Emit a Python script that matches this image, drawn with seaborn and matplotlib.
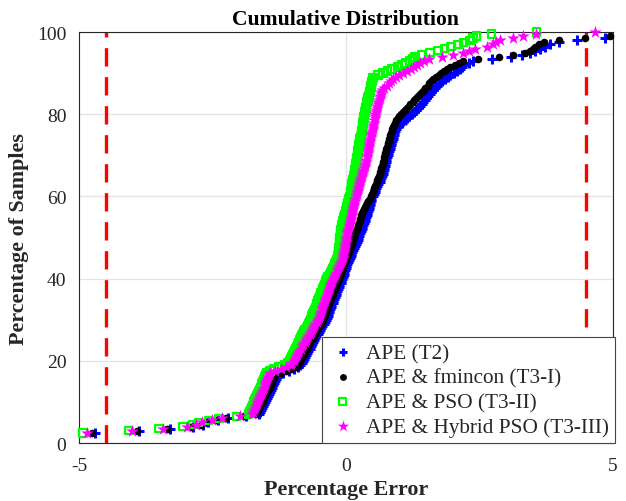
import numpy as np
import pandas as pd
import seaborn as sns
import matplotlib
matplotlib.use("Agg")
import matplotlib.pyplot as plt

# ---------------- data (sorted percentage errors, 200 samples each) ----------------
methods = ["APE (T2)", "APE & fmincon (T3-I)", "APE & PSO (T3-II)", "APE & Hybrid PSO (T3-III)"]

err_t2 = [
    -5.65, -5.35, -5.20, -5.02, -4.70, -3.88, -3.30, -2.86, -2.68, -2.58,
    -2.39, -2.20, -1.87, -1.63, -1.61, -1.59, -1.57, -1.55, -1.53, -1.52,
    -1.50, -1.48, -1.46, -1.44, -1.42, -1.40, -1.38, -1.36, -1.34, -1.33,
    -1.31, -1.29, -1.27, -1.17, -1.07, -0.97, -0.89, -0.85, -0.83, -0.81,
    -0.79, -0.77, -0.74, -0.72, -0.70, -0.68, -0.66, -0.63, -0.61, -0.59,
    -0.57, -0.55, -0.52, -0.50, -0.48, -0.46, -0.44, -0.41, -0.39, -0.37,
    -0.36, -0.34, -0.33, -0.31, -0.30, -0.28, -0.27, -0.25, -0.24, -0.22,
    -0.21, -0.19, -0.18, -0.16, -0.15, -0.13, -0.12, -0.10, -0.09, -0.07,
    -0.06, -0.04, -0.03, -0.01, 0.00, 0.01, 0.03, 0.04, 0.06, 0.07,
    0.09, 0.10, 0.12, 0.14, 0.15, 0.17, 0.19, 0.20, 0.22, 0.23,
    0.25, 0.27, 0.28, 0.30, 0.31, 0.32, 0.34, 0.35, 0.36, 0.38,
    0.39, 0.40, 0.42, 0.43, 0.44, 0.45, 0.46, 0.47, 0.48, 0.50,
    0.52, 0.54, 0.55, 0.57, 0.59, 0.61, 0.63, 0.64, 0.66, 0.68,
    0.69, 0.70, 0.71, 0.72, 0.73, 0.74, 0.75, 0.76, 0.77, 0.78,
    0.79, 0.80, 0.82, 0.83, 0.84, 0.85, 0.86, 0.88, 0.89, 0.90,
    0.91, 0.92, 0.94, 0.95, 1.00, 1.05, 1.10, 1.15, 1.19, 1.23,
    1.27, 1.31, 1.35, 1.39, 1.42, 1.45, 1.48, 1.51, 1.54, 1.57,
    1.60, 1.63, 1.66, 1.70, 1.75, 1.80, 1.85, 1.91, 1.95, 2.02,
    2.08, 2.13, 2.17, 2.20, 2.30, 2.38, 2.73, 3.10, 3.30, 3.45,
    3.54, 3.63, 3.73, 3.82, 4.00, 4.33, 4.85, 5.20, 5.50, 5.90,
]

err_t3i = [
    -5.70, -5.40, -5.25, -5.05, -4.75, -3.92, -3.35, -2.90, -2.72, -2.62,
    -2.43, -2.24, -1.91, -1.68, -1.66, -1.64, -1.62, -1.60, -1.58, -1.56,
    -1.55, -1.53, -1.51, -1.49, -1.47, -1.45, -1.43, -1.41, -1.39, -1.38,
    -1.36, -1.34, -1.32, -1.22, -1.12, -1.02, -0.94, -0.90, -0.88, -0.86,
    -0.84, -0.82, -0.79, -0.77, -0.75, -0.73, -0.71, -0.69, -0.67, -0.65,
    -0.62, -0.60, -0.58, -0.56, -0.54, -0.52, -0.49, -0.47, -0.45, -0.43,
    -0.42, -0.40, -0.39, -0.37, -0.36, -0.34, -0.33, -0.31, -0.30, -0.28,
    -0.27, -0.25, -0.24, -0.22, -0.21, -0.19, -0.18, -0.16, -0.15, -0.13,
    -0.12, -0.10, -0.09, -0.07, -0.06, -0.05, -0.03, -0.02, 0.00, 0.01,
    0.02, 0.04, 0.05, 0.06, 0.08, 0.09, 0.11, 0.12, 0.13, 0.15,
    0.16, 0.17, 0.19, 0.20, 0.22, 0.23, 0.24, 0.26, 0.27, 0.28,
    0.29, 0.30, 0.32, 0.34, 0.36, 0.38, 0.40, 0.42, 0.45, 0.47,
    0.49, 0.50, 0.52, 0.53, 0.55, 0.56, 0.58, 0.59, 0.61, 0.62,
    0.63, 0.64, 0.65, 0.66, 0.68, 0.69, 0.70, 0.71, 0.72, 0.73,
    0.74, 0.75, 0.76, 0.77, 0.78, 0.79, 0.80, 0.81, 0.82, 0.83,
    0.84, 0.86, 0.87, 0.89, 0.90, 0.92, 0.93, 0.97, 1.00, 1.04,
    1.07, 1.11, 1.14, 1.18, 1.21, 1.25, 1.28, 1.32, 1.35, 1.39,
    1.42, 1.46, 1.49, 1.53, 1.56, 1.60, 1.63, 1.68, 1.74, 1.79,
    1.84, 1.90, 1.95, 2.05, 2.12, 2.20, 2.47, 2.87, 3.13, 3.35,
    3.45, 3.50, 3.55, 3.62, 3.71, 4.00, 4.48, 4.94, 5.30, 5.80,
]

err_t3ii = [
    -6.00, -5.70, -5.40, -5.20, -4.92, -4.07, -3.50, -3.05, -2.86, -2.76,
    -2.57, -2.38, -2.05, -1.82, -1.80, -1.78, -1.77, -1.75, -1.73, -1.72,
    -1.70, -1.68, -1.67, -1.65, -1.63, -1.62, -1.60, -1.58, -1.57, -1.55,
    -1.53, -1.52, -1.50, -1.48, -1.42, -1.35, -1.25, -1.15, -1.09, -1.05,
    -1.03, -1.01, -0.99, -0.97, -0.95, -0.94, -0.92, -0.90, -0.88, -0.86,
    -0.84, -0.82, -0.80, -0.78, -0.76, -0.74, -0.72, -0.70, -0.68, -0.66,
    -0.64, -0.63, -0.61, -0.60, -0.58, -0.57, -0.55, -0.54, -0.52, -0.51,
    -0.49, -0.47, -0.46, -0.44, -0.43, -0.41, -0.40, -0.38, -0.37, -0.35,
    -0.33, -0.31, -0.29, -0.27, -0.25, -0.23, -0.21, -0.19, -0.17, -0.15,
    -0.15, -0.14, -0.14, -0.13, -0.13, -0.12, -0.12, -0.12, -0.11, -0.11,
    -0.10, -0.10, -0.09, -0.09, -0.08, -0.07, -0.06, -0.05, -0.04, -0.03,
    -0.02, -0.01, 0.00, 0.01, 0.02, 0.03, 0.04, 0.05, 0.06, 0.08,
    0.09, 0.09, 0.10, 0.11, 0.11, 0.12, 0.13, 0.13, 0.14, 0.15,
    0.16, 0.16, 0.17, 0.18, 0.18, 0.19, 0.20, 0.20, 0.21, 0.22,
    0.23, 0.23, 0.24, 0.25, 0.25, 0.26, 0.27, 0.27, 0.28, 0.29,
    0.29, 0.30, 0.31, 0.31, 0.32, 0.32, 0.33, 0.34, 0.34, 0.35,
    0.36, 0.37, 0.38, 0.39, 0.39, 0.40, 0.41, 0.42, 0.43, 0.44,
    0.45, 0.46, 0.47, 0.47, 0.48, 0.49, 0.50, 0.51, 0.60, 0.69,
    0.78, 0.86, 0.97, 1.05, 1.12, 1.20, 1.25, 1.30, 1.42, 1.57,
    1.72, 1.85, 1.97, 2.10, 2.20, 2.32, 2.38, 2.45, 2.73, 3.57,
]

err_t3iii = [
    -5.80, -5.50, -5.30, -5.10, -4.85, -4.00, -3.43, -2.98, -2.80, -2.70,
    -2.51, -2.32, -1.99, -1.76, -1.74, -1.72, -1.71, -1.69, -1.67, -1.66,
    -1.64, -1.62, -1.61, -1.59, -1.57, -1.56, -1.54, -1.52, -1.51, -1.49,
    -1.47, -1.46, -1.44, -1.42, -1.32, -1.22, -1.12, -1.03, -1.00, -0.98,
    -0.96, -0.93, -0.91, -0.89, -0.87, -0.84, -0.82, -0.80, -0.77, -0.75,
    -0.73, -0.70, -0.68, -0.66, -0.64, -0.61, -0.59, -0.57, -0.54, -0.52,
    -0.51, -0.49, -0.48, -0.47, -0.45, -0.44, -0.43, -0.41, -0.40, -0.39,
    -0.37, -0.36, -0.34, -0.33, -0.32, -0.30, -0.29, -0.28, -0.26, -0.24,
    -0.22, -0.20, -0.19, -0.17, -0.15, -0.13, -0.11, -0.10, -0.08, -0.06,
    -0.05, -0.05, -0.04, -0.03, -0.02, -0.02, -0.01, 0.00, 0.01, 0.01,
    0.02, 0.03, 0.03, 0.04, 0.05, 0.06, 0.07, 0.08, 0.09, 0.10,
    0.11, 0.12, 0.12, 0.13, 0.14, 0.15, 0.16, 0.17, 0.18, 0.19,
    0.20, 0.21, 0.22, 0.23, 0.24, 0.25, 0.26, 0.27, 0.28, 0.30,
    0.31, 0.32, 0.33, 0.34, 0.35, 0.36, 0.37, 0.38, 0.39, 0.40,
    0.41, 0.41, 0.42, 0.43, 0.44, 0.44, 0.45, 0.46, 0.47, 0.48,
    0.48, 0.49, 0.50, 0.51, 0.51, 0.52, 0.53, 0.54, 0.54, 0.55,
    0.56, 0.57, 0.58, 0.59, 0.60, 0.61, 0.62, 0.63, 0.64, 0.65,
    0.66, 0.67, 0.72, 0.77, 0.81, 0.85, 0.89, 0.94, 1.00, 1.07,
    1.14, 1.22, 1.28, 1.33, 1.39, 1.47, 1.56, 1.80, 2.00, 2.19,
    2.30, 2.42, 2.64, 2.75, 2.82, 2.88, 3.13, 3.31, 3.57, 4.66,
]

thresholds = [-4.5, 4.5]
x_ticks = [-5, 0, 5]
y_ticks = [0, 20, 40, 60, 80, 100]

# ---------------- styling ----------------
sns.set_theme(style="white")
plt.rcParams["font.family"] = ["Liberation Serif", "DejaVu Serif"]

fig = plt.figure(figsize=(6.26, 5.02), dpi=100)
ax = fig.add_axes([0.126, 0.1155, 0.853, 0.8185])

series = [
    (err_t2, dict(marker="+", color="#0000ff", s=45, linewidths=2.2), methods[0]),
    (err_t3i, dict(marker="o", color="black", s=30, linewidth=0), methods[1]),
    (err_t3ii, dict(marker="s", facecolors="none", edgecolors="#00ff00", s=30, linewidths=1.6), methods[2]),
    (err_t3iii, dict(marker="*", color="#ff00ff", s=90, linewidth=0), methods[3]),
]

x_min, x_max = x_ticks[0], x_ticks[-1]
for vals, style, label in series:
    v = np.sort(np.asarray(vals))
    pct = np.arange(1, len(v) + 1) / len(v) * 100
    df = pd.DataFrame({"error": v, "pct": pct})
    df = df[(df["error"] >= x_min) & (df["error"] <= x_max)]
    sns.scatterplot(data=df, x="error", y="pct", ax=ax, label=label, clip_on=False, zorder=3, **style)

for t in thresholds:
    ax.axvline(t, color="#ff0000", linestyle=(0, (5.5, 3.2)), linewidth=2.4, zorder=2)

ax.set_xlim(x_min, x_max)
ax.set_ylim(0, 100)
ax.set_xticks(x_ticks)
ax.set_xticklabels(["-5", "0", "5"])
ax.set_yticks(y_ticks)
ax.grid(True, color="#e3e3e3", linewidth=0.9, zorder=0)
ax.set_axisbelow(True)
for sp in ax.spines.values():
    sp.set_color("#262626")
    sp.set_linewidth(0.8)
ax.tick_params(axis="both", direction="in", length=3, width=0.6, labelsize=14,
               colors="#262626")
ax.tick_params(axis="x", pad=10)
ax.tick_params(axis="y", pad=9)
for lab in ax.get_xticklabels() + ax.get_yticklabels():
    lab.set_color("#262626")

ax.set_title("Cumulative Distribution", fontsize=15.6, fontweight="bold", pad=6, color="black")
ax.set_xlabel("Percentage Error", fontsize=15.8, fontweight="bold", labelpad=4, color="#262626")
ax.set_ylabel("Percentage of Samples", fontsize=15.8, fontweight="bold", labelpad=6, color="#262626")

leg = ax.legend(loc="lower right", bbox_to_anchor=(1.004, 0.0), borderaxespad=0, fontsize=15.3,
                frameon=True, fancybox=False, framealpha=1, edgecolor="#444444",
                handletextpad=0.4, labelspacing=0.22, borderpad=0.3, handlelength=1.35,
                markerscale=0.9)
leg.get_frame().set_linewidth(0.8)
leg.set_zorder(5)

fig.savefig("out.png", dpi=100)
